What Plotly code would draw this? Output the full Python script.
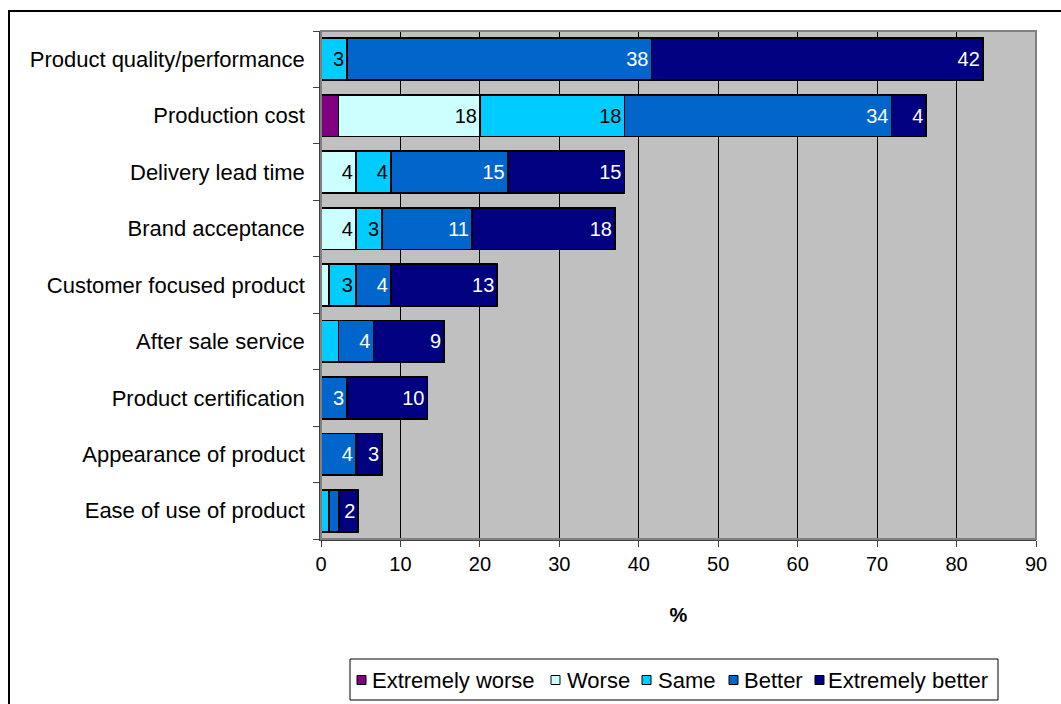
import plotly.graph_objects as go

# Survey factors, listed top to bottom
categories = [
    "Product quality/performance",
    "Production cost",
    "Delivery lead time",
    "Brand acceptance",
    "Customer focused product",
    "After sale service",
    "Product certification",
    "Appearance of product",
    "Ease of use of product",
]

# Share of respondents (%) per rating, one list per rating level
extremely_worse = [0, 2.2, 0, 0, 0, 0, 0, 0, 0]
worse = [0, 17.8, 4.4, 4.4, 1.0, 0, 0, 0, 0]
same = [3.3, 18.2, 4.4, 3.3, 3.4, 2.2, 0, 0, 1.0]
better = [38.3, 33.6, 14.7, 11.3, 4.4, 4.4, 3.3, 4.4, 1.3]
extremely_better = [41.7, 4.4, 14.7, 18.0, 13.4, 8.9, 10.1, 3.3, 2.4]

series_names = ["Extremely worse", "Worse", "Same", "Better", "Extremely better"]
x_ticks = [0, 10, 20, 30, 40, 50, 60, 70, 80, 90]

FONT = "Arial, Liberation Sans, sans-serif"
colors = ["#800080", "#CCFFFF", "#00CCFF", "#0066CC", "#000080"]
text_colors = ["#000000", "#000000", "#000000", "#FFFFFF", "#FFFFFF"]
LABEL_MIN = 2.3  # segments narrower than this carry no value label

# Canvas and plotting-area geometry (pixels)
W, H = 1061, 704
L, R, T, B = 321, 25, 31, 165
pw, ph = W - L - R, H - T - B


def px_x(x):
    return (x - L) / pw


def px_y(y):
    return (H - B - y) / ph


fig = go.Figure()
for name, vals, col, tcol in zip(
    series_names,
    [extremely_worse, worse, same, better, extremely_better],
    colors,
    text_colors,
):
    xs = [v if v > 0 else None for v in vals]
    labels = [f"{v:.0f}" if v >= LABEL_MIN else "" for v in vals]
    fig.add_trace(
        go.Bar(
            name=name,
            y=categories,
            x=xs,
            orientation="h",
            marker=dict(color=col, line=dict(color="#000000", width=1.8)),
            text=labels,
            textposition="inside",
            insidetextanchor="end",
            textangle=0,
            textfont=dict(family=FONT, size=20, color=tcol),
            hoverinfo="x+name",
            showlegend=False,
        )
    )

fig.update_layout(
    width=W,
    height=H,
    barmode="stack",
    bargap=0.26,
    margin=dict(l=L, r=R, t=T, b=B),
    paper_bgcolor="#FFFFFF",
    plot_bgcolor="#C0C0C0",
    font=dict(family=FONT, size=20, color="#000000"),
    uniformtext=dict(minsize=20, mode="show"),
    showlegend=False,
    xaxis=dict(
        range=[0, 90],
        tickvals=x_ticks,
        ticktext=[str(t) for t in x_ticks],
        showgrid=True,
        gridcolor="#000000",
        gridwidth=1,
        zeroline=False,
        showline=True,
        linecolor="#404040",
        linewidth=2,
        ticks="outside",
        ticklen=6,
        tickcolor="#404040",
        tickfont=dict(family=FONT, size=20),
        title=dict(text="<b>%</b>", font=dict(family=FONT, size=20), standoff=34),
    ),
    yaxis=dict(
        categoryorder="array",
        categoryarray=categories[::-1],
        showgrid=False,
        zeroline=False,
        showline=True,
        linecolor="#404040",
        linewidth=1.5,
        ticks="outside",
        tickson="boundaries",
        ticklen=6,
        tickcolor="#404040",
        tickfont=dict(family=FONT, size=22),
        ticklabelstandoff=10,
    ),
)

# Grey border of the plotting area and black outer frame of the chart
fig.add_shape(
    type="rect", xref="paper", yref="paper", x0=0, x1=1, y0=0, y1=1,
    line=dict(color="#808080", width=2), layer="above",
)
fig.add_shape(
    type="rect", xref="paper", yref="paper",
    x0=px_x(9), x1=px_x(W + 10), y0=px_y(H + 10), y1=px_y(11),
    line=dict(color="#000000", width=2), layer="above",
)

# Legend: framed box with one small swatch and caption per rating
legend_box = (350, 659, 998, 700)
swatch_left = [357, 551, 642, 729, 815]
caption_center = [453, 598, 686, 773, 908]
legend_mid = 680
sw = 9

fig.add_shape(
    type="rect", xref="paper", yref="paper",
    x0=px_x(legend_box[0]), x1=px_x(legend_box[2]),
    y0=px_y(legend_box[3]), y1=px_y(legend_box[1]),
    line=dict(color="#000000", width=1), fillcolor="#FFFFFF", layer="above",
)
for name, col, sx, cx in zip(series_names, colors, swatch_left, caption_center):
    fig.add_shape(
        type="rect", xref="paper", yref="paper",
        x0=px_x(sx), x1=px_x(sx + sw),
        y0=px_y(legend_mid + sw / 2), y1=px_y(legend_mid - sw / 2),
        line=dict(color="#000000", width=1), fillcolor=col, layer="above",
    )
    fig.add_annotation(
        xref="paper", yref="paper", x=px_x(cx), y=px_y(legend_mid),
        xanchor="center", yanchor="middle", showarrow=False,
        text=name, font=dict(family=FONT, size=22, color="#000000"),
    )

fig.write_html("out.html")
